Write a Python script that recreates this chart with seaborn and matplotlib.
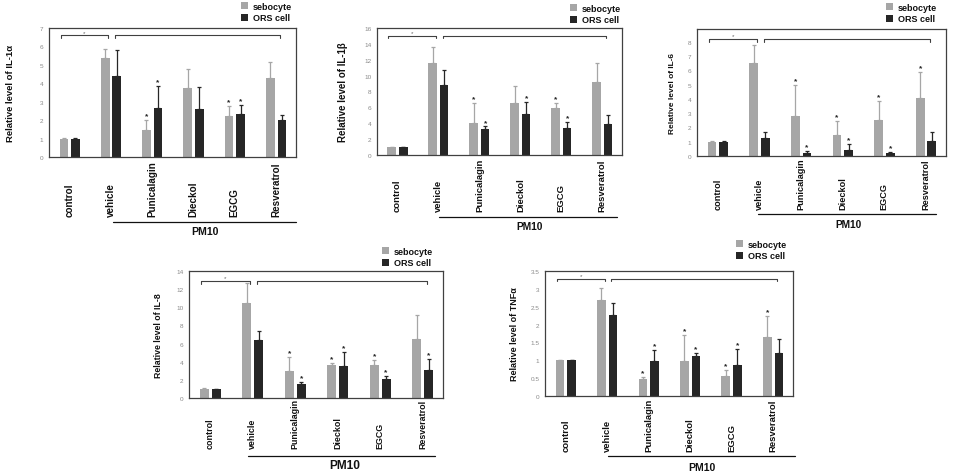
import matplotlib
matplotlib.use("Agg")
import matplotlib.pyplot as plt
from matplotlib.lines import Line2D
from matplotlib.patches import Patch
from matplotlib.container import BarContainer
from matplotlib.transforms import blended_transform_factory
import seaborn as sns
import pandas as pd

# ---------------- data ----------------
categories = ["control", "vehicle", "Punicalagin", "Dieckol", "EGCG", "Resveratrol"]
series = ["sebocyte", "ORS cell"]

il1a_seb = [1.0, 5.35, 1.45, 3.73, 2.24, 4.27]
il1a_seb_err = [0.03, 0.52, 0.57, 1.03, 0.51, 0.89]
il1a_ors = [1.0, 4.42, 2.65, 2.60, 2.31, 2.00]
il1a_ors_err = [0.02, 1.36, 1.19, 1.18, 0.51, 0.27]
il1a_seb_star = [0, 0, 1, 0, 1, 0]
il1a_ors_star = [0, 0, 1, 0, 1, 0]

il1b_seb = [0.97, 11.6, 4.0, 6.53, 5.98, 9.18]
il1b_seb_err = [0.05, 1.95, 2.57, 2.10, 0.59, 2.40]
il1b_ors = [0.97, 8.84, 3.28, 5.22, 3.45, 3.87]
il1b_ors_err = [0.03, 1.81, 0.32, 1.52, 0.75, 1.18]
il1b_seb_star = [0, 0, 1, 0, 1, 0]
il1b_ors_star = [0, 0, 1, 1, 1, 0]

il6_seb = [1.0, 6.54, 2.82, 1.48, 2.49, 4.09]
il6_seb_err = [0.03, 1.27, 2.17, 0.99, 1.37, 1.79]
il6_ors = [1.0, 1.29, 0.24, 0.45, 0.21, 1.06]
il6_ors_err = [0.02, 0.36, 0.11, 0.37, 0.05, 0.59]
il6_seb_star = [0, 0, 1, 1, 1, 1]
il6_ors_star = [0, 0, 1, 1, 1, 0]

il8_seb = [1.0, 10.5, 2.98, 3.60, 3.60, 6.47]
il8_seb_err = [0.05, 2.20, 1.51, 0.26, 0.59, 2.65]
il8_ors = [1.0, 6.36, 1.50, 3.53, 2.10, 3.09]
il8_ors_err = [0.03, 1.07, 0.26, 1.54, 0.36, 1.17]
il8_seb_star = [0, 0, 1, 1, 1, 0]
il8_ors_star = [0, 0, 1, 1, 1, 1]

tnf_seb = [1.0, 2.70, 0.48, 0.98, 0.56, 1.64]
tnf_seb_err = [0.02, 0.33, 0.05, 0.72, 0.16, 0.60]
tnf_ors = [1.0, 2.26, 0.99, 1.12, 0.88, 1.21]
tnf_ors_err = [0.01, 0.35, 0.29, 0.08, 0.43, 0.38]
tnf_seb_star = [0, 0, 1, 1, 1, 1]
tnf_ors_star = [0, 0, 1, 1, 1, 0]

ylabels = ["Relative level of IL-1\u03b1", "Relative level of IL-1\u03b2",
           "Relative level of IL-6", "Relative level of IL-8",
           "Relative level of TNF\u03b1"]
group_label = "PM10"

# ---------------- style ----------------
sns.set_theme(style="white")
plt.rcParams["font.family"] = ["Liberation Sans", "DejaVu Sans"]
SEB_COLOR = "#a6a6a6"
ORS_COLOR = "#262626"
W, H = 956, 477

fig = plt.figure(figsize=(W / 100, H / 100), dpi=100)

# layout per panel (pixel coordinates, font sizes)
panels = [
    dict(seb=il1a_seb, se=il1a_seb_err, ors=il1a_ors, oe=il1a_ors_err,
         ss=il1a_seb_star, os=il1a_ors_star, ylab=ylabels[0],
         box=(49, 29, 296, 158), ylim=7, ticks=[0, 1, 2, 3, 4, 5, 6, 7],
         bry=6.6, ylab_x=15, labbot=217, line=(113, 296, 223), pm=(205, 232),
         leg=(241, 3), yfs=6.8, cfs=7.1, pfs=7.6),
    dict(seb=il1b_seb, se=il1b_seb_err, ors=il1b_ors, oe=il1b_ors_err,
         ss=il1b_seb_star, os=il1b_ors_star, ylab=ylabels[1],
         box=(377, 29, 622, 156), ylim=16, ticks=list(range(0, 17, 2)),
         bry=15.0, ylab_x=348, labbot=212, line=(439, 617, 218), pm=(530, 227),
         leg=(570, 5), yfs=7.0, cfs=6.8, pfs=7.4),
    dict(seb=il6_seb, se=il6_seb_err, ors=il6_ors, oe=il6_ors_err,
         ss=il6_seb_star, os=il6_ors_star, ylab=ylabels[2],
         box=(697, 30, 946, 157), ylim=8.9, ticks=list(range(0, 9)),
         bry=8.2, ylab_x=676, labbot=210, line=(758, 936, 215), pm=(848, 225),
         leg=(886, 4), yfs=6.0, cfs=6.6, pfs=7.3),
    dict(seb=il8_seb, se=il8_seb_err, ors=il8_ors, oe=il8_ors_err,
         ss=il8_seb_star, os=il8_ors_star, ylab=ylabels[3],
         box=(189, 272, 443, 399), ylim=14, ticks=list(range(0, 15, 2)),
         bry=12.9, ylab_x=163, labbot=449, line=(248, 435, 457), pm=(345, 466),
         leg=(382, 248), yfs=6.3, cfs=6.4, pfs=8.6),
    dict(seb=tnf_seb, se=tnf_seb_err, ors=tnf_ors, oe=tnf_ors_err,
         ss=tnf_seb_star, os=tnf_ors_star, ylab=ylabels[4],
         box=(545, 272, 793, 397), ylim=3.5, ticks=[0, 0.5, 1, 1.5, 2, 2.5, 3, 3.5],
         bry=3.28, ylab_x=519, labbot=452, line=(608, 795, 457), pm=(702, 468),
         leg=(736, 241), yfs=6.5, cfs=6.8, pfs=7.5),
]

for p in panels:
    x0, y0, x1, y1 = p["box"]
    ax = fig.add_axes([x0 / W, 1 - y1 / H, (x1 - x0) / W, (y1 - y0) / H])
    df = pd.DataFrame({
        "category": categories * 2,
        "cell": [series[0]] * len(categories) + [series[1]] * len(categories),
        "value": list(p["seb"]) + list(p["ors"]),
    })
    sns.barplot(data=df, x="category", y="value", hue="cell",
                order=categories, hue_order=series,
                palette=[SEB_COLOR, ORS_COLOR], width=0.56, gap=0.25,
                errorbar=None, ax=ax, legend=False, saturation=1,
                linewidth=0, edgecolor="none")

    errs = [p["se"], p["oe"]]
    stars = [p["ss"], p["os"]]
    cols = [SEB_COLOR, ORS_COLOR]
    bar_conts = [c for c in ax.containers if isinstance(c, BarContainer)]
    for ci, cont in enumerate(bar_conts):
        for bi, bar in enumerate(cont.patches):
            xc = bar.get_x() + bar.get_width() / 2
            h = bar.get_height()
            e = errs[ci][bi]
            ax.errorbar(xc, h, yerr=[[0], [e]], fmt="none", ecolor=cols[ci],
                        elinewidth=0.9, capsize=1.6, capthick=0.9)
            if stars[ci][bi]:
                ax.text(xc, h + e + p["ylim"] * 0.005, "*", ha="center",
                        va="bottom", fontsize=6, fontweight="bold", color="#222222")

    ax.set_xlim(-0.5, 5.48)
    ax.set_ylim(0, p["ylim"])
    ax.set_yticks(p["ticks"])
    ax.set_yticklabels([f"{t:g}" for t in p["ticks"]])
    ax.tick_params(axis="y", length=0, pad=4, labelsize=4.6, labelcolor="#8a8a8a")
    ax.set_xticks([])
    ax.set_xlabel("")
    ax.set_ylabel(p["ylab"], fontsize=p["yfs"], fontweight="bold", color="#111111")
    ax.yaxis.set_label_coords(-(x0 - p["ylab_x"]) / (x1 - x0), 0.5)
    for s in ax.spines.values():
        s.set_color("#404040")
        s.set_linewidth(0.9)

    # brackets
    by = p["bry"]
    tk = p["ylim"] * 0.02
    for bx0, bx1 in [(-0.22, 0.94), (1.1, 5.1)]:
        ax.plot([bx0, bx1], [by, by], color="#404040", lw=0.8)
        ax.plot([bx0, bx0], [by, by - tk], color="#404040", lw=0.8)
        ax.plot([bx1, bx1], [by, by - tk], color="#404040", lw=0.8)
    ax.text(0.36, by + p["ylim"] * 0.004, "*", ha="center", va="bottom",
            fontsize=4.5, color="#666666")

    # category labels below the axes
    tr = blended_transform_factory(ax.transData, fig.transFigure)
    for i, c in enumerate(categories):
        fig.text(i, 1 - p["labbot"] / H, c, transform=tr, rotation=90,
                 ha="center", va="bottom", fontsize=p["cfs"], fontweight="bold",
                 color="#111111")

    lx0, lx1, ly = p["line"]
    fig.add_artist(Line2D([lx0 / W, lx1 / W], [1 - ly / H, 1 - ly / H],
                          transform=fig.transFigure, color="#111111", lw=0.9))
    fig.text(p["pm"][0] / W, 1 - p["pm"][1] / H, group_label, ha="center",
             va="center", fontsize=p["pfs"], fontweight="bold", color="#111111")

    # legend
    handles = [Patch(facecolor=SEB_COLOR, edgecolor="none"),
               Patch(facecolor=ORS_COLOR, edgecolor="none")]
    lg = ax.legend(handles, series, loc="upper left",
                   bbox_to_anchor=(p["leg"][0] / W, 1 - p["leg"][1] / H),
                   bbox_transform=fig.transFigure, frameon=False,
                   handlelength=0.8, handleheight=0.8, handletextpad=0.5,
                   labelspacing=0.25, borderpad=0, borderaxespad=0,
                   prop={"size": 6.5, "weight": "bold"})
    for t in lg.get_texts():
        t.set_color("#111111")

fig.savefig("out.png", dpi=100, facecolor="white")
